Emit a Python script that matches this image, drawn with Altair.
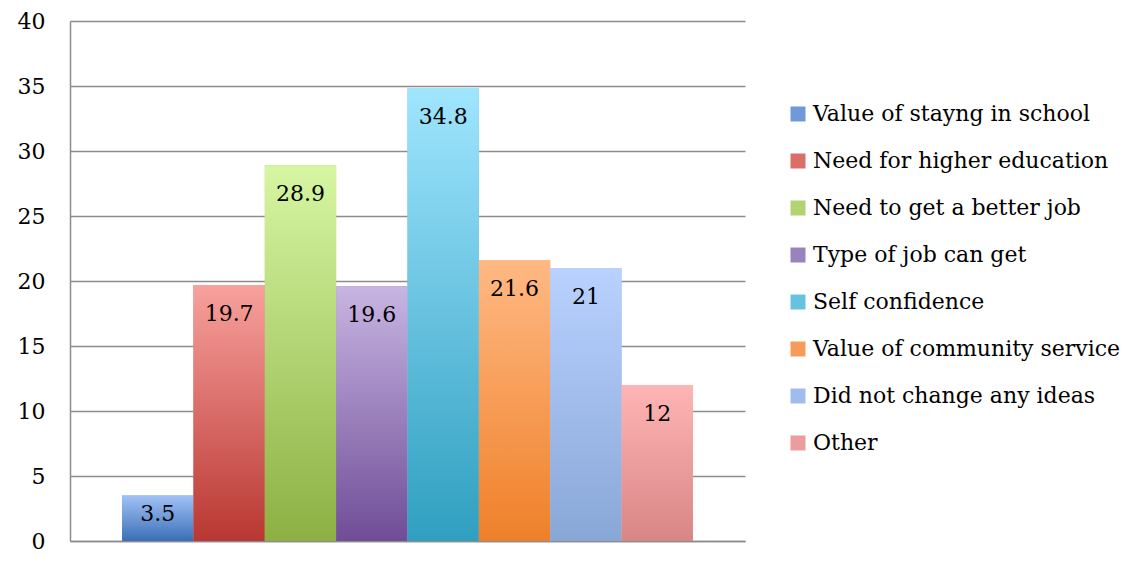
import altair as alt
import pandas as pd

categories = [
    "Value of stayng in school",
    "Need for higher education",
    "Need to get a better job",
    "Type of job can get",
    "Self confidence",
    "Value of community service",
    "Did not change any ideas",
    "Other",
]
values = [3.5, 19.7, 28.9, 19.6, 34.8, 21.6, 21, 12]
top_colors = ["#a2c2f6", "#f8a19d", "#d6f6a2", "#c8b5e2", "#9fe5fe", "#ffb984", "#b9d1ff", "#ffb5b5"]
bottom_colors = ["#3a6fb6", "#b93732", "#8db043", "#6f4d97", "#2f9fc0", "#ef8029", "#88a7d7", "#d88585"]
mid_colors = ["#6f99d8", "#da6e69", "#b2d372", "#9c82bd", "#66c3df", "#f79c58", "#a0bcec", "#eb9d9d"]
label_text = ["3.5", "19.7", "28.9", "19.6", "34.8", "21.6", "21", "12"]

df = pd.DataFrame({"cat": categories, "value": values, "label": label_text})

FONT = "DejaVu Serif"
FS = 22

x_enc = alt.X(
    "cat:N",
    sort=categories,
    scale=alt.Scale(domain=categories, paddingInner=0, paddingOuter=0.73),
    axis=alt.Axis(labels=False, ticks=False, title=None, domainColor="#8c8c8c", domainWidth=1.5),
)
y_enc = alt.Y(
    "value:Q",
    scale=alt.Scale(domain=[0, 40]),
    axis=alt.Axis(
        values=[0, 5, 10, 15, 20, 25, 30, 35, 40],
        title=None,
        ticks=False,
        labelPadding=25,
        labelFont=FONT,
        labelFontSize=FS,
        labelColor="#000000",
        gridColor="#8c8c8c",
        gridWidth=1.5,
        domainColor="#8c8c8c",
        domainWidth=1.5,
    ),
)

base = alt.Chart(df)

legend_layer = base.mark_bar().encode(
    x=x_enc,
    y=y_enc,
    color=alt.Color(
        "cat:N",
        sort=categories,
        scale=alt.Scale(domain=categories, range=mid_colors),
        legend=alt.Legend(
            title=None,
            orient="none",
            legendX=717,
            legendY=82,
            symbolType="square",
            symbolSize=225,
            symbolStrokeWidth=0,
            labelFont=FONT,
            labelFontSize=FS,
            labelColor="#000000",
            rowPadding=25,
            labelOffset=4,
            labelLimit=400,
        ),
    ),
)

layers = [legend_layer]
for c, t, b in zip(categories, top_colors, bottom_colors):
    grad = alt.Gradient(
        gradient="linear",
        stops=[alt.GradientStop(color=t, offset=0), alt.GradientStop(color=b, offset=1)],
        x1=0, x2=0, y1=0, y2=1,
    )
    layers.append(
        base.transform_filter(alt.datum.cat == c)
        .mark_bar(color=grad)
        .encode(x=x_enc, y=alt.Y("value:Q"))
    )

text_layer = base.transform_calculate(
    ly="max(datum.value - 2.2, datum.value * 0.6)"
).mark_text(font=FONT, fontSize=FS, color="#000000", baseline="middle", align="center").encode(
    x=x_enc,
    y=alt.Y("ly:Q"),
    text="label:N",
)
layers.append(text_layer)

chart = alt.layer(*layers).properties(
    width=675,
    height=520,
    autosize=alt.AutoSizeParams(type="none"),
    padding={"left": 62, "top": 13, "right": 377, "bottom": 19},
).configure_view(stroke=None).configure_axis(grid=True).configure_axisX(grid=False)

chart.save("out.html", embed_options={"renderer": "svg", "actions": False})
